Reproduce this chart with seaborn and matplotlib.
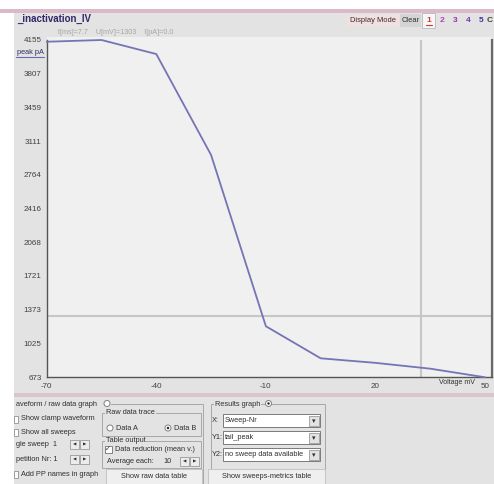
import matplotlib
matplotlib.use('Agg')
import numpy as np
import pandas as pd
import matplotlib.pyplot as plt
from matplotlib.patches import Rectangle, Circle
import seaborn as sns

# Данные кривой (Voltage mV -> peak pA)
voltage_mv = [-70, -55, -40, -25, -10, 5, 20, 35, 50]
peak_pa = [4137, 4155, 4010, 2968, 1200, 869, 822, 762, 673]
x_ticks = [-70, -40, -10, 20, 50]
y_tick_labels = ['673', '1025', '1373', '1721', '2068', '2416', '2764',
                 '3111', '3459', '3807', '4155']
cursor_mv = 32.5
cursor_pa = 1303

df = pd.DataFrame({'Voltage': voltage_mv, 'Peak': peak_pa})

sns.set_style('white')
plt.rcParams['font.family'] = ['Liberation Sans', 'DejaVu Sans']

W, H = 494, 484
GRAY = '#e3e3e3'
TXT = '#303030'
fig = plt.figure(figsize=(W / 100, H / 100), dpi=100, facecolor='white')

# Фоновые оси в пикселях (окно программы)
bg = fig.add_axes([0, 0, 1, 1])
bg.set_xlim(0, W)
bg.set_ylim(H, 0)
bg.axis('off')


def rect(x, y, w, h, fc, ec='none', lw=0.8, z=1):
    bg.add_patch(Rectangle((x, y), w, h, facecolor=fc, edgecolor=ec, lw=lw, zorder=z))


def txt(x, y, s, size=5.3, color=TXT, ha='left', weight='normal', z=5, **kw):
    bg.text(x, y, s, fontsize=size, color=color, ha=ha, va='center',
            weight=weight, zorder=z, **kw)


def radio(x, y, filled=False):
    bg.add_patch(Circle((x, y), 3, facecolor='white', edgecolor='#808080', lw=0.7, zorder=4))
    if filled:
        bg.add_patch(Circle((x, y), 1.2, facecolor='#202020', edgecolor='none', zorder=5))


def spinner(x, y):
    for dx, s in [(0, '◀'), (10, '▶')]:
        rect(x + dx, y, 9, 9, '#ececec', '#9a9a9a', 0.6, z=4)
        txt(x + dx + 4.5, y + 4.7, s, size=3.2, ha='center', family='DejaVu Sans')


def group(x, y, w, h, title):
    rect(x, y, w, h, 'none', '#a8a8a8', 0.7, z=2)
    bg.text(x + 4, y, title, fontsize=5.3, color=TXT, va='center', zorder=5,
            bbox=dict(boxstyle='square,pad=0.1', fc=GRAY, ec='none'))


def combo(x, y, label, value):
    txt(x - 11, y + 6.5, label)
    rect(x, y, 97, 13, 'white', '#7a7a7a', 0.7, z=3)
    txt(x + 2, y + 6.5, value)
    rect(x + 86, y + 1.5, 10, 10, '#e2e2e2', '#9a9a9a', 0.6, z=4)
    txt(x + 91, y + 7, '▾', size=5, ha='center', family='DejaVu Sans')


def button(x, y, w, h, s):
    rect(x, y, w, h, '#efefef', '#c4c4c4', 0.7, z=3)
    txt(x + w / 2, y + h / 2 + 0.5, s, ha='center')


# Рамки окна
rect(14, 12, W - 14, H - 12, GRAY)
rect(0, 9, W, 3.5, '#dcb9c9', z=2)
rect(14, 393, W - 14, 3.5, '#dcc4ce', z=2)
rect(46.7, 37, 445, 4, '#f0f0f0', z=2)

# Заголовок
txt(17, 19, '_inactivation_IV', size=7, color='#35286a', weight='bold')
txt(58, 33, 't[ms]=7.7    U[mV]=1303    I[pA]=0.0', size=5.2, color='#a6a6a6')
rect(347, 15, 52, 11, '#f4dfe0')
txt(349.5, 20.5, 'Display Mode', size=5.4)
rect(400, 14, 21, 13, '#d4d4d4')
txt(402, 20.5, 'Clear', size=5.4)
rect(422, 13, 13, 15, '#f6f6f6', '#b8b8b8', 0.6)
txt(428.5, 20.5, '1', size=6, color='#c83a2e', ha='center', weight='bold')
bg.plot([425.5, 431.5], [25, 25], color='#c83a2e', lw=0.8, zorder=5)
for xi, s, c in [(442, '2', '#b23db4'), (455, '3', '#9a2fa8'),
                 (468, '4', '#6e3aa8'), (481.5, '5', '#4a2f9a'), (490, 'C', '#404040')]:
    txt(xi, 20.5, s, size=6, color=c, ha='center', weight='bold')

# Подпись оси Y
txt(17, 52, 'peak pA', size=5.3, color='#303060')
bg.plot([16, 44], [56.5, 56.5], color='#6a6ab8', lw=0.8, zorder=5)
txt(475, 382.5, 'Voltage mV', size=5, ha='right')

# Нижняя панель
txt(16, 405, 'aveform / raw data graph')
radio(107, 403.5)
bg.plot([111, 203, 203], [404, 404, 484], color='#a8a8a8', lw=0.7, zorder=2)
for yy in [419, 432, 474]:
    rect(13.5, yy - 3.5, 4, 7, 'white', '#909090', 0.6, z=3)
txt(21, 419, 'Show clamp waveform')
txt(21, 432, 'Show all sweeps')
txt(16, 444.5, 'gle sweep  1')
spinner(70, 440)
txt(16, 459.5, 'petition Nr: 1')
spinner(70, 455)
txt(21, 474, 'Add PP names in graph')

group(102, 413, 99, 23, 'Raw data trace')
radio(110, 428)
txt(116, 428, 'Data A')
radio(168, 428, filled=True)
txt(174, 428, 'Data B')

group(102, 441, 99, 27, 'Table output')
rect(104.5, 446, 7, 7, 'white', '#707070', 0.6, z=3)
txt(108, 449.5, '✓', size=5, ha='center', family='DejaVu Sans', weight='bold')
txt(115, 449.5, 'Data reduction (mean v.)')
txt(107, 461.5, 'Average each:')
txt(163, 461.5, '10')
spinner(180, 457)
button(106, 469, 96, 15, 'Show raw data table')

group(211, 404, 114, 66, 'Results graph')
radio(268.5, 403.5, filled=True)
combo(223, 414, 'X:', 'Sweep-Nr')
combo(223, 431, 'Y1:', 'tail_peak')
combo(223, 448, 'Y2:', 'no sweep data available')
button(208, 469, 117, 15, 'Show sweeps-metrics table')

# График
ax = fig.add_axes([46.7 / W, 1 - 377.3 / H, (492 - 46.7) / W, (377.3 - 40) / H])
ax.set_facecolor('#f0f0f0')
ax.axvline(cursor_mv, color='#c6c6c6', lw=1.5, zorder=1)
ax.axhline(cursor_pa, color='#c6c6c6', lw=1.5, zorder=1)
sns.lineplot(data=df, x='Voltage', y='Peak', color='#7474b6', lw=1.3, ax=ax,
             zorder=3, clip_on=False)
ax.set_xlim(-70, 51.9)
ax.set_ylim(673, 4155)
ax.set_xticks(x_ticks)
ax.set_xticklabels([str(v) for v in x_ticks])
ax.set_yticks([int(s) for s in y_tick_labels])
ax.set_yticklabels(y_tick_labels)
ax.set_xlabel('')
ax.set_ylabel('')
for side in ['left', 'bottom']:
    ax.spines[side].set_color('#555555')
    ax.spines[side].set_linewidth(1.0)
ax.spines['right'].set_color('#6a6a6a')
ax.spines['right'].set_linewidth(1.6)
ax.spines['top'].set_visible(False)
ax.tick_params(axis='both', labelsize=5.8, colors='#555555', labelcolor='#404040',
               length=2.5, width=0.8, pad=1.2, direction='out')
ax.tick_params(axis='x', pad=1.5)

plt.savefig('out.png', dpi=100, facecolor='white')
